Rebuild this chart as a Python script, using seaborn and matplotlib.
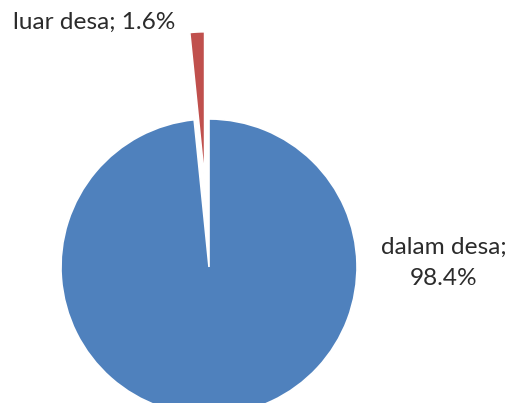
import matplotlib
matplotlib.use("Agg")
import matplotlib.pyplot as plt
import seaborn as sns

categories = ["dalam desa", "luar desa"]
values = [98.4, 1.6]
label_texts = ["dalam desa;\n98.4%", "luar desa; 1.6%"]
colors = ["#4F81BD", "#C0504D"]
explode = [0.0, 0.59]

sns.set_theme(style="white")
plt.rcParams["font.family"] = ["Lato", "DejaVu Sans"]

fig = plt.figure(figsize=(5.09, 4.03), dpi=100)
ax = fig.add_axes([0, 0, 1, 1])
ax.pie(values, colors=colors, explode=explode, startangle=90, counterclock=False,
       radius=1.0, center=(0, 0),
       wedgeprops=dict(edgecolor="white", linewidth=1.2))
ax.set_xlim(-209 / 148, (509 - 209) / 148)
ax.set_ylim(-136 / 148, (403 - 136) / 148)
ax.set_aspect("equal")
ax.axis("off")

ax.text(1.588, 0.03, label_texts[0], ha="center", va="center", fontsize=17.6,
        color="#2b2b2b", linespacing=1.6)
ax.text(-0.777, 1.655, label_texts[1], ha="center", va="center", fontsize=17.6,
        color="#2b2b2b")

fig.savefig("out.png", dpi=100)
